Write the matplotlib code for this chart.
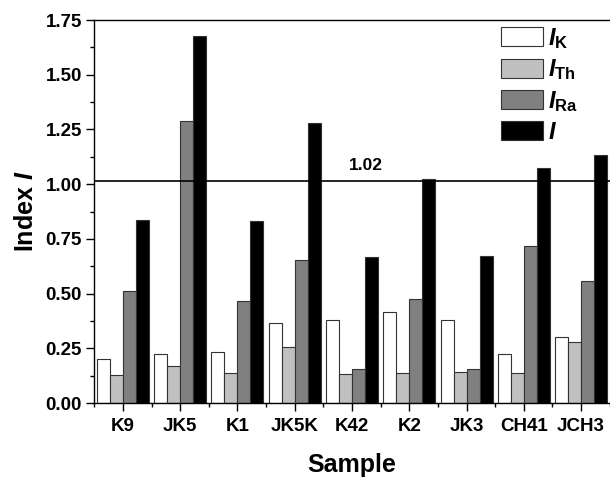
import numpy as np
import matplotlib
matplotlib.use("Agg")
import matplotlib.pyplot as plt
from matplotlib.ticker import MultipleLocator, FixedLocator

plt.rcParams['font.family'] = ['Liberation Sans', 'DejaVu Sans']
plt.rcParams['font.weight'] = 'bold'
plt.rcParams['mathtext.fontset'] = 'custom'
plt.rcParams['mathtext.rm'] = 'Liberation Sans:bold'
plt.rcParams['mathtext.bf'] = 'Liberation Sans:bold'
plt.rcParams['mathtext.it'] = 'Liberation Sans:italic:bold'

samples = ['K9', 'JK5', 'K1', 'JK5K', 'K42', 'K2', 'JK3', 'CH41', 'JCH3']
I_K = [0.200, 0.222, 0.232, 0.367, 0.378, 0.414, 0.381, 0.224, 0.303]
I_Th = [0.126, 0.168, 0.136, 0.257, 0.132, 0.138, 0.143, 0.136, 0.277]
I_Ra = [0.510, 1.287, 0.466, 0.655, 0.155, 0.474, 0.154, 0.717, 0.556]
I_tot = [0.836, 1.677, 0.831, 1.278, 0.666, 1.025, 0.673, 1.075, 1.134]
series_labels = [r'$I_{\rm K}$', r'$I_{\rm Th}$', r'$I_{\rm Ra}$', r'$I$']
limit_value = 1.015
limit_label = '1.02'

colors = ['#ffffff', '#c0c0c0', '#808080', '#000000']

fig = plt.figure(figsize=(6.1, 4.8), dpi=100)
ax = fig.add_axes([94.3 / 610, 77 / 480, (609.7 - 94.3) / 610, 383 / 480])

x = np.arange(len(samples))
w = 0.227
for k, (vals, c, lab) in enumerate(zip([I_K, I_Th, I_Ra, I_tot], colors, series_labels)):
    ax.bar(x + (k - 1.5) * w, vals, width=w, color=c, edgecolor='#333333',
           linewidth=0.8, label=lab, zorder=2)

ax.axhline(limit_value, color='black', linewidth=1.2, zorder=5)
ax.text(4.25, limit_value + 0.035, limit_label, ha='center', va='bottom',
        fontsize=12.5, fontweight='bold')

ax.set_xlim(-0.5, len(samples) - 0.5)
ax.set_ylim(0, 1.75)
ax.set_xticks(x)
ax.set_xticklabels(samples)
ax.xaxis.set_minor_locator(FixedLocator(np.arange(-0.5, len(samples), 1.0)))
ax.yaxis.set_major_locator(MultipleLocator(0.25))
ax.yaxis.set_minor_locator(MultipleLocator(0.125))
ax.yaxis.set_major_formatter(matplotlib.ticker.FormatStrFormatter('%.2f'))

ax.tick_params(axis='both', which='major', direction='out', length=6, width=1.0,
               labelsize=13.5, pad=3)
ax.tick_params(axis='x', which='major', pad=5)
ax.tick_params(axis='both', which='minor', direction='out', length=3, width=1.0)
ax.tick_params(top=False, right=False, which='both')
for lbl in ax.get_xticklabels() + ax.get_yticklabels():
    lbl.set_fontweight('bold')

ax.spines['right'].set_visible(False)
for s in ['left', 'bottom', 'top']:
    ax.spines[s].set_linewidth(1.0)

ax.set_xlabel('Sample', fontsize=18, fontweight='bold', labelpad=13)
ax.set_ylabel(r'Index $I$', fontsize=18, fontweight='bold', labelpad=5)

leg = ax.legend(loc='upper left', bbox_to_anchor=(501 / 610, 1 - 26 / 480),
                bbox_transform=fig.transFigure, frameon=False, fontsize=17,
                handlelength=1.78, handleheight=0.85, handletextpad=0.22,
                labelspacing=0.28, borderpad=0, borderaxespad=0)

fig.savefig('out.png', dpi=100)
